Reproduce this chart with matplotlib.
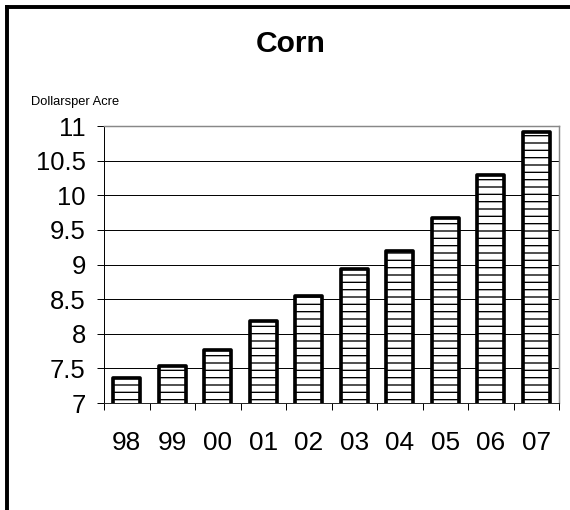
import matplotlib
matplotlib.use("Agg")
import matplotlib.pyplot as plt
from matplotlib.lines import Line2D
import numpy as np

# crop budget, dollars per acre
years = ['98', '99', '00', '01', '02', '03', '04', '05', '06', '07']
dollars = [7.36, 7.53, 7.76, 8.18, 8.55, 8.93, 9.19, 9.67, 10.29, 10.91]
yticks = [7, 7.5, 8, 8.5, 9, 9.5, 10, 10.5, 11]
ytick_labels = ['7', '7.5', '8', '8.5', '9', '9.5', '10', '10.5', '11']

DPI = 88
plt.rcParams['font.family'] = ['Liberation Sans', 'DejaVu Sans']
plt.rcParams['hatch.linewidth'] = 1.1
plt.rcParams['hatch.color'] = '#333333'

fig = plt.figure(figsize=(570 / DPI, 510 / DPI), dpi=DPI)
ax = fig.add_axes([104 / 570, 1 - 403 / 510, (559 - 104) / 570, (403 - 126) / 510])

x = np.arange(len(years))
bars = ax.bar(x, dollars, width=0.6, bottom=0, color='white', edgecolor='black',
              linewidth=3.0, hatch='--', zorder=3)
for b in bars:
    b.set_joinstyle('round')

ax.set_xlim(-0.5, len(years) - 0.5)
ax.set_ylim(7, 11)
ax.set_yticks(yticks)
ax.set_yticklabels(ytick_labels, fontsize=21)
ax.tick_params(axis='y', direction='out', length=6, width=0.8, pad=9, color='black')

# labels at centres, ticks at boundaries
ax.set_xticks(x)
ax.set_xticklabels(years, fontsize=21.5)
ax.tick_params(axis='x', which='major', length=0, pad=23)
ax.set_xticks(np.arange(-0.5, len(years)), minor=True)
ax.tick_params(axis='x', which='minor', direction='out', length=6, width=0.8, color='black')

ax.yaxis.grid(True, color='black', linewidth=0.8, zorder=0)
ax.set_axisbelow(True)
for s in ['top', 'right']:
    ax.spines[s].set_color('#888888')
    ax.spines[s].set_linewidth(1.2)
ax.spines['left'].set_color('black')
ax.spines['left'].set_linewidth(0.8)
ax.spines['bottom'].set_color('#222222')
ax.spines['bottom'].set_linewidth(0.8)

fig.text(291 / 570, 1 - 44.5 / 510, 'Corn', fontsize=24.5, fontweight='bold',
         ha='center', va='center')
fig.text(31 / 570, 1 - 102 / 510, 'Dollarsper Acre', fontsize=10.5,
         ha='left', va='center')

# outer frame, left and top edges only
fig.add_artist(Line2D([7 / 570, 7 / 570], [0, 1 - 7 / 510], color='black', linewidth=3.2,
                      transform=fig.transFigure, solid_capstyle='projecting'))
fig.add_artist(Line2D([7 / 570, 1], [1 - 7 / 510, 1 - 7 / 510], color='black', linewidth=3.2,
                      transform=fig.transFigure, solid_capstyle='projecting'))

fig.savefig('out.png', dpi=DPI)
